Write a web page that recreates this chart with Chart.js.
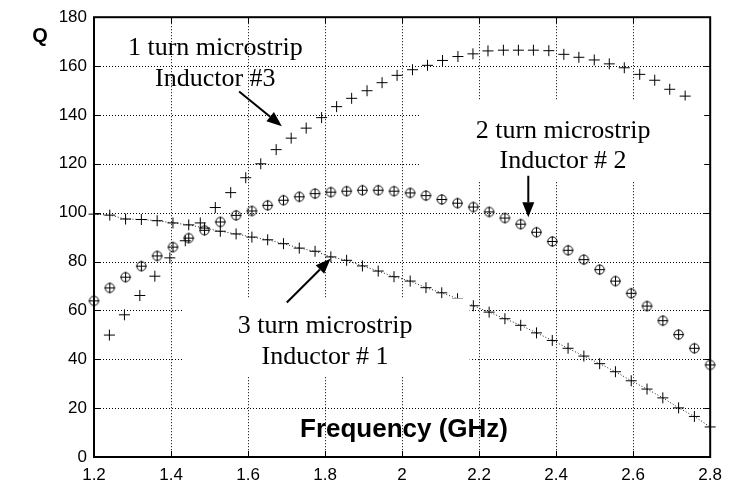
<!DOCTYPE html>
<html><head><meta charset="utf-8">
<script src="https://cdn.jsdelivr.net/npm/chart.js@4.4.1/dist/chart.umd.min.js"></script>
<style>html,body{margin:0;padding:0;background:#fff;}#wrap{width:730px;height:483px;}</style>
</head><body><div id="wrap"><canvas id="c" width="730" height="483"></canvas></div>
<script>
// ---- data ----
const freq40 = [1.200,1.241,1.282,1.323,1.364,1.405,1.446,1.487,1.528,1.569,1.610,1.651,1.692,1.733,1.774,1.815,1.856,1.897,1.938,1.979,2.021,2.062,2.103,2.144,2.185,2.226,2.267,2.308,2.349,2.390,2.431,2.472,2.513,2.554,2.595,2.636,2.677,2.718,2.759,2.800];
const freq39 = [1.240,1.279,1.319,1.358,1.397,1.437,1.476,1.515,1.555,1.594,1.633,1.673,1.712,1.751,1.791,1.830,1.869,1.909,1.948,1.987,2.027,2.066,2.105,2.145,2.184,2.223,2.263,2.302,2.341,2.381,2.420,2.459,2.499,2.538,2.577,2.617,2.656,2.695,2.735];
const q3turn = [99.4,99.0,97.4,97.2,96.7,95.8,95.0,93.7,92.4,91.3,90.0,88.9,87.3,85.5,84.2,81.9,80.5,78.2,76.1,73.8,72.0,69.3,67.2,64.8,61.9,59.3,56.6,53.9,50.8,47.7,44.5,41.3,38.2,34.9,31.2,27.8,24.2,20.1,16.6,12.3];
const q2turn = [63.9,69.2,73.6,78.1,82.3,85.9,89.6,92.8,96.2,98.9,100.7,103.0,105.1,106.5,107.8,108.4,108.8,109.2,109.2,108.8,108.1,107.0,105.4,103.9,102.3,100.3,97.8,95.3,92.0,88.2,84.6,80.8,76.7,72.0,67.0,61.8,55.8,50.1,44.5,37.7];
const q1turn = [49.9,58.2,66.1,74.0,81.5,88.5,95.8,102.1,108.2,114.3,120.0,125.8,130.5,134.6,138.9,143.4,146.8,149.9,153.2,156.2,158.5,160.3,162.3,163.9,165.0,166.2,166.5,166.5,166.5,166.3,164.8,163.6,162.5,160.9,159.3,156.6,154.2,150.5,147.7];
const xTicks = [1.2,1.4,1.6,1.8,2.0,2.2,2.4,2.6,2.8];
const xTickLabels = ['1.2','1.4','1.6','1.8','2','2.2','2.4','2.6','2.8'];
const yTicks = [0,20,40,60,80,100,120,140,160,180];
const yTickLabels = ['0','20','40','60','80','100','120','140','160','180'];

// ---- annotations (data units) ----
const notes = [
  {lines:['1 turn microstrip','Inductor #3'], x:1.515, y:[164.6,151.9]},
  {lines:['2 turn microstrip','Inductor # 2'], x:2.418, y:[130.5,118.4]},
  {lines:['3 turn microstrip','Inductor # 1'], x:1.800, y:[50.8,38.2]}
];
const whiteBoxes = [
  {x0:2.0465, x1:2.8, y0:113.1, y1:145.9},
  {x0:1.4297, x1:2.1755, y0:32.8, y1:64.9}
];
const arrows = [
  {from:[1.5768,149.6], to:[1.6877,135.4]},
  {from:[2.3277,115.1], to:[2.3277,98.1]},
  {from:[1.7006,63.2], to:[1.8142,81.1]}
];

function circlePlus(){
  const c=document.createElement('canvas'); c.width=13; c.height=13;
  const g=c.getContext('2d'); g.strokeStyle='#000'; g.lineWidth=1;
  g.beginPath(); g.arc(6.5,6.5,4.6,0,Math.PI*2); g.stroke();
  g.beginPath(); g.moveTo(6.5,1.3); g.lineTo(6.5,11.7); g.moveTo(1.3,6.5); g.lineTo(11.7,6.5); g.stroke();
  return c;
}
const toXY = (xs, ys) => xs.map((v,i)=>({x:v,y:ys[i]}));

const overlay = {
  id:'overlay',
  beforeDatasetsDraw(chart){
    const {ctx, chartArea:a, scales:{x,y}} = chart;
    ctx.save();
    ctx.strokeStyle='#000'; ctx.lineWidth=1; ctx.setLineDash([1,2]);
    ctx.beginPath();
    xTicks.slice(1,-1).forEach(v=>{const p=Math.round(x.getPixelForValue(v))+0.5; ctx.moveTo(p,a.top); ctx.lineTo(p,a.bottom);});
    yTicks.slice(1,-1).forEach(v=>{const p=Math.round(y.getPixelForValue(v))+0.5; ctx.moveTo(a.left,p); ctx.lineTo(a.right,p);});
    ctx.stroke();
    ctx.restore();
  },
  afterDatasetsDraw(chart){
    const {ctx, chartArea:a, scales:{x,y}} = chart;
    ctx.save();
    ctx.fillStyle='#fff';
    whiteBoxes.forEach(b=>{
      const l=x.getPixelForValue(b.x0), r=x.getPixelForValue(b.x1);
      const t=y.getPixelForValue(b.y1), bt=y.getPixelForValue(b.y0);
      ctx.fillRect(l,t,r-l,bt-t);
    });
    ctx.strokeStyle='#000'; ctx.lineWidth=2;
    ctx.strokeRect(a.left,a.top,a.right-a.left,a.bottom-a.top);
    ctx.lineWidth=1; ctx.beginPath();
    xTicks.forEach(v=>{const p=Math.round(x.getPixelForValue(v))+0.5; ctx.moveTo(p,a.bottom); ctx.lineTo(p,a.bottom-6); ctx.moveTo(p,a.top); ctx.lineTo(p,a.top+6);});
    yTicks.forEach(v=>{const p=Math.round(y.getPixelForValue(v))+0.5; ctx.moveTo(a.left,p); ctx.lineTo(a.left+6,p); ctx.moveTo(a.right,p); ctx.lineTo(a.right-6,p);});
    ctx.stroke();
    ctx.fillStyle='#000';
    ctx.font='26px "Liberation Serif", "Times New Roman", serif';
    ctx.textAlign='center'; ctx.textBaseline='alphabetic';
    notes.forEach(n=>{n.lines.forEach((s,i)=>ctx.fillText(s, x.getPixelForValue(n.x), y.getPixelForValue(n.y[i])));});
    arrows.forEach(ar=>{
      const x0=x.getPixelForValue(ar.from[0]), y0=y.getPixelForValue(ar.from[1]);
      const x1=x.getPixelForValue(ar.to[0]), y1=y.getPixelForValue(ar.to[1]);
      const ang=Math.atan2(y1-y0,x1-x0), L=15, W=6;
      const bx=x1-L*Math.cos(ang), by=y1-L*Math.sin(ang);
      ctx.strokeStyle='#000'; ctx.lineWidth=2;
      ctx.beginPath(); ctx.moveTo(x0,y0); ctx.lineTo(bx,by); ctx.stroke();
      ctx.beginPath(); ctx.moveTo(x1,y1);
      ctx.lineTo(bx+W*Math.sin(ang), by-W*Math.cos(ang));
      ctx.lineTo(bx-W*Math.sin(ang), by+W*Math.cos(ang));
      ctx.closePath(); ctx.fill();
    });
    ctx.font='bold 26px "Liberation Sans", Arial, sans-serif';
    ctx.fillText('Frequency (GHz)', x.getPixelForValue(2.005), y.getPixelForValue(8.1));
    ctx.font='bold 20px "Liberation Sans", Arial, sans-serif';
    ctx.textBaseline='middle';
    ctx.fillText('Q', 40, 36);
    ctx.restore();
  }
};

new Chart(document.getElementById('c'), {
  type:'scatter',
  data:{datasets:[
    {label:'3 turn', data:toXY(freq40,q3turn), showLine:true, borderColor:'#222', borderWidth:1, borderDash:[1,2],
     pointStyle:'cross', pointRadius:5.5, pointBorderColor:'#000', pointBorderWidth:1, clip:false},
    {label:'2 turn', data:toXY(freq40,q2turn), showLine:false, pointStyle:circlePlus(), pointRadius:6, clip:false},
    {label:'1 turn', data:toXY(freq39,q1turn), showLine:false, pointStyle:'cross', pointRadius:5.5, pointBorderColor:'#000', pointBorderWidth:1, clip:false}
  ]},
  options:{
    responsive:false, animation:false, devicePixelRatio:1,
    layout:{padding:{top:13,right:16,left:0,bottom:0}},
    plugins:{legend:{display:false}, tooltip:{enabled:false}},
    scales:{
      x:{type:'linear', min:1.2, max:2.8,
         grid:{display:false, drawTicks:false}, border:{display:false},
         afterBuildTicks:s=>{s.ticks=xTicks.map(v=>({value:v}));},
         afterFit:s=>{s.height=26;},
         ticks:{autoSkip:false, maxRotation:0, padding:8, color:'#000',
                font:{family:'"Liberation Sans", Arial, sans-serif', size:17},
                callback:(v,i)=>xTickLabels[i]}},
      y:{type:'linear', min:0, max:180,
         grid:{display:false, drawTicks:false}, border:{display:false},
         afterBuildTicks:s=>{s.ticks=yTicks.map(v=>({value:v}));},
         afterFit:s=>{s.width=94;},
         ticks:{autoSkip:false, padding:7, color:'#000',
                font:{family:'"Liberation Sans", Arial, sans-serif', size:17},
                callback:(v,i)=>yTickLabels[i]}}
    }
  },
  plugins:[overlay]
});
</script></body></html>
